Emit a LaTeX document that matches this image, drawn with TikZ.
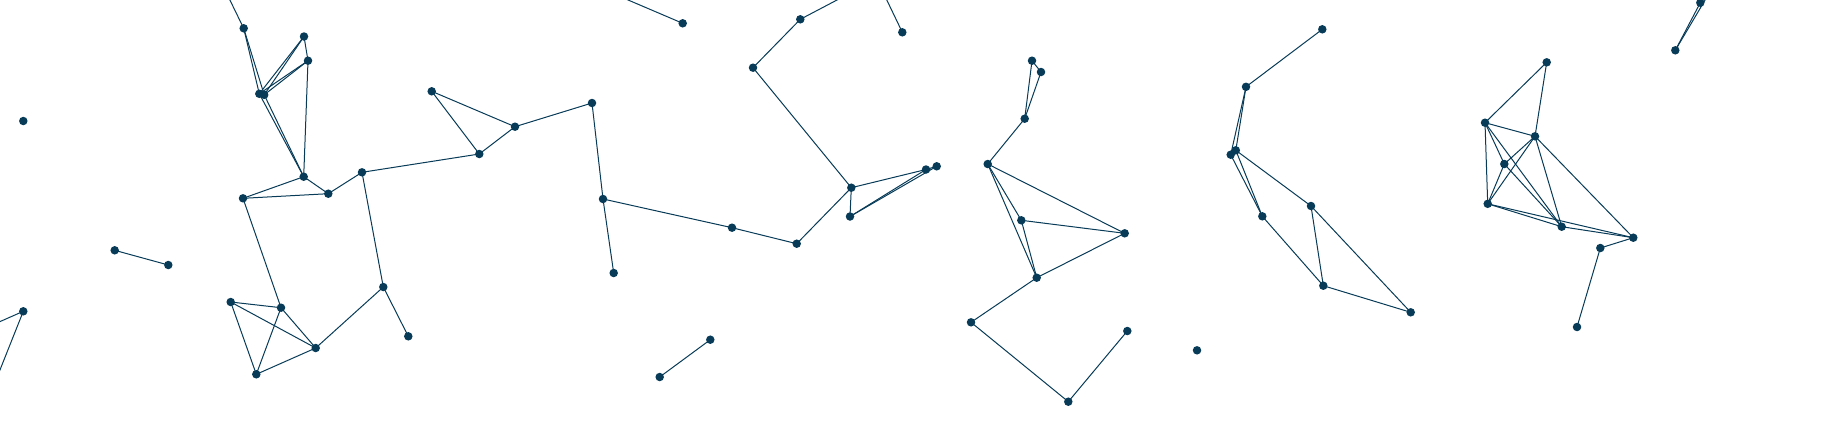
\documentclass[tikz,border=0pt]{standalone}
\definecolor{ink}{RGB}{7,59,88}
\tikzset{
  dot/.style={circle,fill=ink,draw=none,inner sep=0pt,minimum size=8.5pt},
  link/.style={draw=ink,line width=1pt,shorten <=-3.5pt,shorten >=-3.5pt},
  tail/.style={draw=ink,line width=1pt,shorten <=-3.5pt}
}
\begin{document}
\begin{tikzpicture}[x=1pt,y=-1pt]
\useasboundingbox (0,0) rectangle (1835,424);
\clip (0,0) rectangle (1835,424);
% off-canvas ends
\coordinate (o1) at (225,-10);
\coordinate (o2) at (600,-12);
\coordinate (o3) at (856,-10);
\coordinate (o4) at (882,-10);
\coordinate (o5) at (-10,326);
\coordinate (o6) at (-10,395);
\coordinate (o7) at (1711,-10);
\coordinate (o8) at (1707,-10);
% nodes
\node[dot] (A) at (243.7,28.3) {};
\node[dot] (B) at (304,36.5) {};
\node[dot] (C) at (308,60.7) {};
\node[dot] (D1) at (259.3,93.8) {};
\node[dot] (D2) at (264.2,94.8) {};
\node[dot] (E) at (303.7,176.7) {};
\node[dot] (F) at (243,198.3) {};
\node[dot] (G) at (328.3,193.7) {};
\node[dot] (H) at (362,172.3) {};
\node[dot] (I) at (23.3,121) {};
\node[dot] (J) at (114.7,250.3) {};
\node[dot] (K) at (168.3,265) {};
\node[dot] (L) at (23.3,311.3) {};
\node[dot] (M) at (230.7,302) {};
\node[dot] (N) at (281,307.7) {};
\node[dot] (O) at (315.7,348) {};
\node[dot] (P) at (256.3,374.3) {};
\node[dot] (Q) at (383.3,287) {};
\node[dot] (R) at (408.3,336.3) {};
\node[dot] (S) at (431.7,91.3) {};
\node[dot] (T) at (479.3,154) {};
\node[dot] (U) at (515,126.7) {};
\node[dot] (V) at (682.7,23.3) {};
\node[dot] (W) at (592,103) {};
\node[dot] (X) at (603,199) {};
\node[dot] (Y) at (613.7,273) {};
\node[dot] (Z) at (732,227.7) {};
\node[dot] (AA) at (796.7,243.7) {};
\node[dot] (AB) at (753,67.7) {};
\node[dot] (AC) at (800.3,19.3) {};
\node[dot] (AD) at (851.3,187.7) {};
\node[dot] (AE) at (850,216.5) {};
\node[dot] (AF) at (710.3,339.7) {};
\node[dot] (AG) at (659.7,377) {};
\node[dot] (AH) at (926,169.5) {};
\node[dot] (AI) at (936.7,166.3) {};
\node[dot] (AJ) at (902.3,32.3) {};
\node[dot] (AK) at (1032,60.7) {};
\node[dot] (AL) at (1041,72) {};
\node[dot] (AM) at (1024.7,118.7) {};
\node[dot] (AN) at (987.7,164) {};
\node[dot] (AO) at (1021.3,220.3) {};
\node[dot] (AP) at (1124.7,233.3) {};
\node[dot] (AQ) at (1036.7,277.7) {};
\node[dot] (AR) at (971,322.3) {};
\node[dot] (AS) at (1068.3,401.7) {};
\node[dot] (AT) at (1127.3,331) {};
\node[dot] (AU) at (1197,350.3) {};
\node[dot] (AV) at (1322.3,29.3) {};
\node[dot] (AW) at (1246,86.8) {};
\node[dot] (AX1) at (1230.7,154.7) {};
\node[dot] (AX2) at (1235.8,150.3) {};
\node[dot] (AY) at (1262.3,216.3) {};
\node[dot] (AZ) at (1311,206) {};
\node[dot] (BA) at (1323.3,285.7) {};
\node[dot] (BB) at (1410.7,312.3) {};
\node[dot] (BD) at (1546.7,62.3) {};
\node[dot] (BE) at (1485,122.7) {};
\node[dot] (BF) at (1535,136.3) {};
\node[dot] (BG) at (1504.3,164) {};
\node[dot] (BH) at (1487.7,203.8) {};
\node[dot] (BI) at (1561.7,226.7) {};
\node[dot] (BJ) at (1633.3,237.7) {};
\node[dot] (BK) at (1600.3,248) {};
\node[dot] (BL) at (1577,327) {};
\node[dot] (BM) at (1675.3,50.3) {};
\node[dot] (BN) at (1700.3,2.7) {};
% connectors
\foreach \a/\b in {A/D1,A/D2,B/D1,B/D2,B/C,C/D1,C/D2,C/E,D1/E,D2/E,E/F,E/G,F/G,G/H,H/T,H/Q,F/N,M/N,M/O,M/P,N/O,N/P,O/P,O/Q,Q/R,J/K,S/U,S/T,T/U,U/W,W/X,X/Y,X/Z,Z/AA,AA/AD,AB/AC,AB/AD,AD/AE,AD/AH,AE/AH,AE/AI,AH/AI,AF/AG,AK/AL,AK/AM,AL/AM,AM/AN,AN/AO,AN/AQ,AN/AP,AO/AP,AO/AQ,AP/AQ,AQ/AR,AR/AS,AS/AT,AV/AW,AW/AX1,AW/AX2,AX1/AY,AX2/AY,AX2/AZ,AY/BA,AZ/BA,AZ/BB,BA/BB,BD/BE,BD/BF,BE/BF,BE/BG,BE/BH,BE/BI,BG/BI,BF/BG,BF/BH,BG/BH,BF/BI,BF/BJ,BH/BI,BH/BJ,BI/BJ,BJ/BK,BK/BL,BM/BN}
  \draw[link] (\a) -- (\b);
\draw[tail] (A) -- (o1);
\draw[tail] (V) -- (o2);
\draw[tail] (AC) -- (o3);
\draw[tail] (AJ) -- (o4);
\draw[tail] (L) -- (o5);
\draw[tail] (L) -- (o6);
\draw[tail] (BM) -- (o7);
\draw[tail] (BN) -- (o8);
\end{tikzpicture}
\end{document}
